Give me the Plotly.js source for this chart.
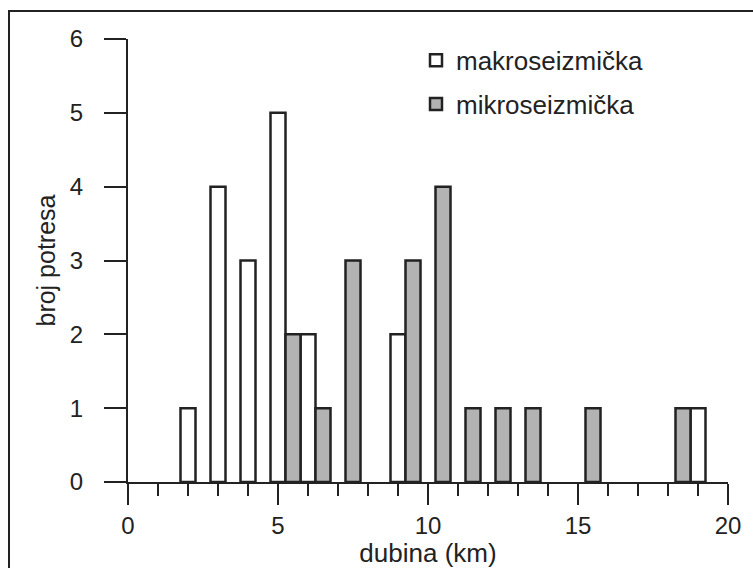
<!DOCTYPE html>
<html>
<head>
<meta charset="utf-8">
<script src="https://cdn.plot.ly/plotly-3.0.1.min.js"></script>
<style>html,body{margin:0;padding:0;background:#fff;}#chart{width:753px;height:568px;}</style>
</head>
<body>
<div id="chart"></div>
<script>
// depth bins (km) and counts
const makroDepth = [2, 3, 4, 5, 6, 9, 19];
const makroCount = [1, 4, 3, 5, 2, 2, 1];
const mikroDepth = [5, 6, 7, 9, 10, 11, 12, 13, 15, 18];
const mikroCount = [2, 1, 3, 3, 4, 1, 1, 1, 1, 1];
const seriesNames = ['makroseizmička', 'mikroseizmička'];
const xTitle = 'dubina (km)';
const yTitle = 'broj potresa';

const ink = '#222222';
const font = 'Liberation Sans, Arial, sans-serif';

const traces = [
  {
    type: 'bar', name: seriesNames[0], x: makroDepth, y: makroCount,
    width: 0.5, offset: -0.25, legendgroup: 'a',
    marker: {color: '#ffffff', line: {color: ink, width: 2.5}}
  },
  {
    type: 'bar', name: seriesNames[1], x: mikroDepth, y: mikroCount,
    width: 0.5, offset: 0.25, legendgroup: 'b',
    marker: {color: '#b3b3b3', line: {color: ink, width: 2.5}}
  }
];

const layout = {
  width: 753, height: 568,
  margin: {l: 128, r: 25, t: 39, b: 86},
  paper_bgcolor: '#ffffff', plot_bgcolor: '#ffffff',
  barmode: 'overlay',
  font: {family: font, size: 24, color: ink},
  showlegend: true,
  legend: {
    x: 0.48, y: 1.005, xanchor: 'left', yanchor: 'top',
    font: {family: font, size: 26, color: ink},
    tracegroupgap: 7, bgcolor: 'rgba(0,0,0,0)', traceorder: 'grouped'
  },
  xaxis: {
    range: [0, 20], dtick: 5, tick0: 0,
    showgrid: false, zeroline: false,
    showline: true, linecolor: ink, linewidth: 2,
    ticks: 'outside', ticklen: 21, tickwidth: 2, tickcolor: ink,
    minor: {dtick: 1, tick0: 0, ticks: 'outside', ticklen: 12, tickwidth: 2, tickcolor: ink, showgrid: false},
    tickfont: {family: font, size: 24, color: ink},
    title: {text: xTitle, font: {family: font, size: 26, color: ink}, standoff: 1},
    fixedrange: true
  },
  yaxis: {
    range: [0, 6], dtick: 1, tick0: 0,
    showgrid: false, zeroline: false,
    showline: true, linecolor: ink, linewidth: 2,
    ticks: 'outside', ticklen: 22, tickwidth: 2, tickcolor: ink,
    ticklabelstandoff: 16,
    tickfont: {family: font, size: 24, color: ink},
    title: {text: yTitle, font: {family: font, size: 25, color: ink}, standoff: 7},
    fixedrange: true
  },
  shapes: [
    {type: 'rect', xref: 'paper', yref: 'paper',
     x0: (9 - 128) / 600, x1: (770 - 128) / 600,
     y0: (482 - 580) / 443, y1: (482 - 11) / 443,
     line: {color: ink, width: 2}, fillcolor: 'rgba(0,0,0,0)', layer: 'below'}
  ]
};

Plotly.newPlot('chart', traces, layout, {displayModeBar: false, staticPlot: true});
</script>
</body>
</html>
